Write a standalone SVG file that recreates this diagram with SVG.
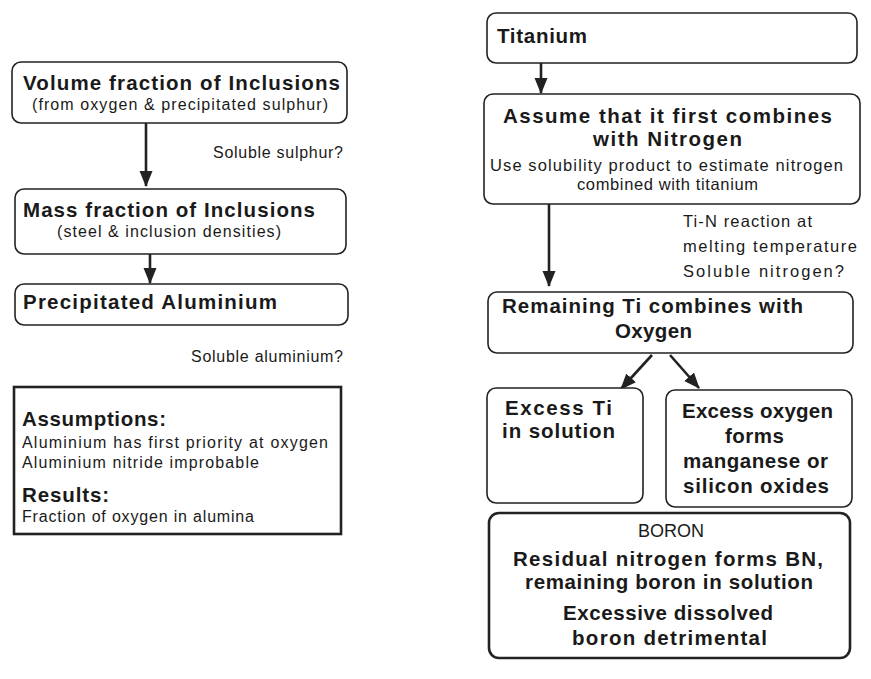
<svg xmlns="http://www.w3.org/2000/svg" width="871" height="679" viewBox="0 0 871 679">
<style>
.box{fill:#fff;stroke:#222;stroke-width:1.6}
.thick{fill:#fff;stroke:#222;stroke-width:2.6}
.t{font-family:"Liberation Sans",Arial,sans-serif;fill:#1a1a1a}
.b{font-weight:bold;font-size:20.5px}
.s{font-size:16px}
.m{font-size:16.5px}
.conn{stroke:#222;stroke-width:2.6;fill:none}
</style>
<defs>
<marker id="ah" markerUnits="userSpaceOnUse" markerWidth="16" markerHeight="16" viewBox="0 0 16 16" refX="15" refY="8" orient="auto">
<path d="M0,1.5 L16,8 L0,14.5 Z" fill="#222"/>
</marker>
</defs>
<rect width="871" height="679" fill="#fff"/>
<g id="connectors">
<line class="conn" x1="146" y1="123" x2="146" y2="186" marker-end="url(#ah)"/>
<line class="conn" x1="150" y1="254" x2="150" y2="283" marker-end="url(#ah)"/>
<line class="conn" x1="541" y1="63" x2="541" y2="93" marker-end="url(#ah)"/>
<line class="conn" x1="549" y1="204" x2="549" y2="286" marker-end="url(#ah)"/>
<line class="conn" x1="652" y1="355" x2="621" y2="389" marker-end="url(#ah)"/>
<line class="conn" x1="670" y1="355" x2="699" y2="388" marker-end="url(#ah)"/>
<text class="t s" x="343" y="158" text-anchor="end" textLength="130" lengthAdjust="spacing">Soluble sulphur?</text>
<text class="t s" x="343" y="362" text-anchor="end" textLength="152" lengthAdjust="spacing">Soluble aluminium?</text>
<text class="t m" x="683" y="227" textLength="129" lengthAdjust="spacing">Ti-N reaction at</text>
<text class="t m" x="683" y="252" textLength="174" lengthAdjust="spacing">melting temperature</text>
<text class="t m" x="683" y="277" textLength="161" lengthAdjust="spacing">Soluble nitrogen?</text>
</g>
<g id="volume">
<rect class="box" x="12" y="62" width="335" height="61" rx="9"/>
<text class="t b" x="23" y="90" textLength="317" lengthAdjust="spacing">Volume fraction of Inclusions</text>
<text class="t s" x="32" y="110" textLength="296" lengthAdjust="spacing">(from oxygen &amp; precipitated sulphur)</text>
</g>
<g id="mass">
<rect class="box" x="15" y="189" width="331" height="65" rx="9"/>
<text class="t b" x="23" y="217" textLength="292" lengthAdjust="spacing">Mass fraction of Inclusions</text>
<text class="t s" x="57" y="237" textLength="224" lengthAdjust="spacing">(steel &amp; inclusion densities)</text>
</g>
<g id="precip">
<rect class="box" x="15" y="284" width="333" height="41" rx="9"/>
<text class="t b" x="23" y="309" textLength="254" lengthAdjust="spacing">Precipitated Aluminium</text>
</g>
<g id="assumptions">
<rect class="thick" x="14" y="387" width="327" height="147"/>
<text class="t b" x="22" y="426" textLength="144" lengthAdjust="spacing">Assumptions:</text>
<text class="t s" x="22" y="448" textLength="306" lengthAdjust="spacing">Aluminium has first priority at oxygen</text>
<text class="t s" x="22" y="468" textLength="237" lengthAdjust="spacing">Aluminium nitride improbable</text>
<text class="t b" x="22" y="502" textLength="87" lengthAdjust="spacing">Results:</text>
<text class="t s" x="22" y="522" textLength="232" lengthAdjust="spacing">Fraction of oxygen in alumina</text>
</g>
<g id="titanium">
<rect class="box" x="487" y="13" width="370" height="50" rx="9"/>
<text class="t b" x="497" y="43" textLength="90" lengthAdjust="spacing">Titanium</text>
</g>
<g id="assume">
<rect class="box" x="484" y="94" width="376" height="110" rx="9"/>
<text class="t b" x="503" y="123" textLength="329" lengthAdjust="spacing">Assume that it first combines</text>
<text class="t b" x="593" y="146" textLength="149" lengthAdjust="spacing">with Nitrogen</text>
<text class="t m" x="490" y="171" textLength="353" lengthAdjust="spacing">Use solubility product to estimate nitrogen</text>
<text class="t m" x="577" y="190" textLength="181" lengthAdjust="spacing">combined with titanium</text>
</g>
<g id="remaining">
<rect class="box" x="488" y="292" width="365" height="61" rx="9"/>
<text class="t b" x="502" y="313" textLength="301" lengthAdjust="spacing">Remaining Ti combines with</text>
<text class="t b" x="615" y="338" textLength="77" lengthAdjust="spacing">Oxygen</text>
</g>
<g id="excessTi">
<rect class="box" x="487" y="388" width="156" height="115" rx="9"/>
<text class="t b" x="505" y="415" textLength="107" lengthAdjust="spacing">Excess Ti</text>
<text class="t b" x="502" y="438" textLength="113" lengthAdjust="spacing">in solution</text>
</g>
<g id="excessO">
<rect class="box" x="666" y="390" width="186" height="117" rx="9"/>
<text class="t b" x="682" y="418" textLength="151" lengthAdjust="spacing">Excess oxygen</text>
<text class="t b" x="725" y="443" textLength="59" lengthAdjust="spacing">forms</text>
<text class="t b" x="683" y="468" textLength="145" lengthAdjust="spacing">manganese or</text>
<text class="t b" x="683" y="493" textLength="146" lengthAdjust="spacing">silicon oxides</text>
</g>
<g id="boron">
<rect class="thick" x="489" y="513" width="361" height="145" rx="10"/>
<text class="t" x="638" y="537" font-size="18" textLength="66" lengthAdjust="spacing">BORON</text>
<text class="t b" x="513" y="566" textLength="310" lengthAdjust="spacing">Residual nitrogen forms BN,</text>
<text class="t b" x="525" y="589" textLength="288" lengthAdjust="spacing">remaining boron in solution</text>
<text class="t b" x="563" y="620" textLength="210" lengthAdjust="spacing">Excessive dissolved</text>
<text class="t b" x="572" y="645" textLength="195" lengthAdjust="spacing">boron detrimental</text>
</g>
</svg>
